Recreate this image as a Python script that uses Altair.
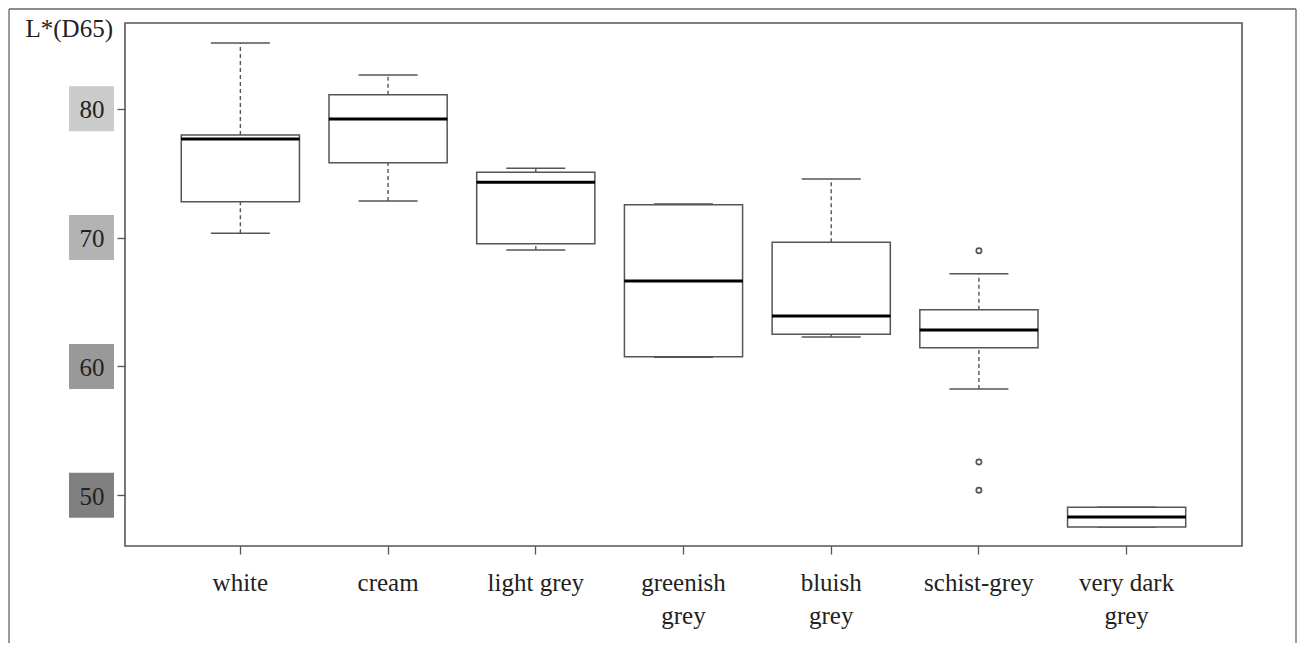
import altair as alt
import pandas as pd

categories = ["white", "cream", "light grey", "greenish grey", "bluish grey", "schist-grey", "very dark grey"]
label_lines = [["white"], ["cream"], ["light grey"], ["greenish", "grey"], ["bluish", "grey"], ["schist-grey"], ["very dark", "grey"]]
whisker_low = [70.33, 72.84, 69.04, 60.71, 62.29, 58.25, 47.55]
q1 = [72.79, 75.81, 69.53, 60.76, 62.50, 61.46, 47.55]
median = [77.65, 79.20, 74.29, 66.63, 63.92, 62.83, 48.32]
q3 = [77.96, 81.09, 75.07, 72.55, 69.63, 64.41, 49.08]
whisker_high = [85.10, 82.61, 75.38, 72.60, 74.55, 67.20, 49.08]
outlier_cat = ["schist-grey", "schist-grey", "schist-grey"]
outlier_val = [68.98, 52.59, 50.39]
y_ticks = [50, 60, 70, 80]
y_tick_colors = ["#808080", "#999999", "#b3b3b3", "#cbcbcb"]

FONT = "Liberation Serif"
GREY = "#555555"

stats = pd.DataFrame({"cat": categories, "lo": whisker_low, "q1": q1, "med": median, "q3": q3, "hi": whisker_high})
outliers = pd.DataFrame({"cat": outlier_cat, "val": outlier_val})
ticks_df = pd.DataFrame({"v": y_ticks})
one = pd.DataFrame({"a": [0]})

# label expression for multi-line labels
expr = "datum.label"
for c, lines in reversed(list(zip(categories, label_lines))):
    arr = "[" + ",".join("'" + s + "'" for s in lines) + "]"
    expr = f"datum.label == '{c}' ? {arr} : ({expr})"

xscale = alt.Scale(domain=categories, paddingInner=0.2, paddingOuter=0.381)
yscale = alt.Scale(domain=[46.07, 86.65], nice=False, zero=False)

xaxis = alt.Axis(title=None, tickSize=8, tickColor=GREY, tickWidth=1.3, domain=False, grid=False,
                 labelFont=FONT, labelFontSize=25, labelColor="#222222", labelAngle=0,
                 labelPadding=16, labelLineHeight=33, labelExpr=expr, labelOverlap=False)
yaxis = alt.Axis(values=y_ticks, tickSize=8, tickColor=GREY, tickWidth=1.3, domain=False, grid=False,
                 labelFont=FONT, labelFontSize=25, labelColor="#222222", labelAlign="center",
                 labelBaseline="middle", labelPadding=25.5, labelOffset=1,
                 title="L*(D65)", titleAngle=0, titleAlign="left", titleBaseline="alphabetic",
                 titleX=-100, titleY=13, titleFont=FONT, titleFontSize=25, titleFontWeight="normal",
                 titleColor="#222222", zindex=1)

X = alt.X("cat:N", scale=xscale, axis=xaxis, sort=categories)

squares = alt.Chart(ticks_df).mark_square(size=2025, opacity=1, strokeWidth=0).encode(
    x=alt.value(-33.5),
    y=alt.Y("v:Q", scale=yscale, axis=yaxis),
    color=alt.Color("v:O", scale=alt.Scale(domain=y_ticks, range=y_tick_colors), legend=None),
)

frame_left = alt.Chart(one).mark_rule(color="#666666", strokeWidth=1.3).encode(
    x=alt.value(-116), y=alt.value(-14), y2=alt.value(620))
frame_right = alt.Chart(one).mark_rule(color="#666666", strokeWidth=1.3).encode(
    x=alt.value(1171), y=alt.value(-14), y2=alt.value(620))
frame_top = alt.Chart(one).mark_rule(color="#666666", strokeWidth=1.3).encode(
    x=alt.value(-116), x2=alt.value(1171), y=alt.value(-14))

base = alt.Chart(stats)
wl = base.mark_rule(color=GREY, strokeWidth=1.4, strokeDash=[4, 3]).encode(
    x=X, y=alt.Y("lo:Q", scale=yscale), y2="q1:Q")
wh = base.mark_rule(color=GREY, strokeWidth=1.4, strokeDash=[4, 3]).encode(
    x=X, y=alt.Y("q3:Q", scale=yscale), y2="hi:Q")
cap_lo = base.mark_tick(color=GREY, size=59, thickness=1.5, opacity=1).encode(
    x=X, y=alt.Y("lo:Q", scale=yscale))
cap_hi = base.mark_tick(color=GREY, size=59, thickness=1.5, opacity=1).encode(
    x=X, y=alt.Y("hi:Q", scale=yscale))
boxes = base.mark_bar(fill="white", stroke=GREY, strokeWidth=1.5).encode(
    x=X, y=alt.Y("q1:Q", scale=yscale), y2="q3:Q")
meds = base.mark_tick(color="#000000", size=118.5, thickness=3, opacity=1).encode(
    x=X, y=alt.Y("med:Q", scale=yscale))
outs = alt.Chart(outliers).mark_point(shape="circle", size=28, filled=False, color=GREY, strokeWidth=1.7, opacity=1).encode(
    x=X, y=alt.Y("val:Q", scale=yscale))

chart = alt.layer(
    squares, frame_left, frame_right, frame_top, wl, wh, cap_lo, cap_hi, boxes, meds, outs
).properties(
    width=1117, height=523, padding=0, background="white"
).configure_view(
    stroke=GREY, strokeWidth=1.6
)

chart.save("out.html", embed_options={"renderer": "svg", "actions": False})
